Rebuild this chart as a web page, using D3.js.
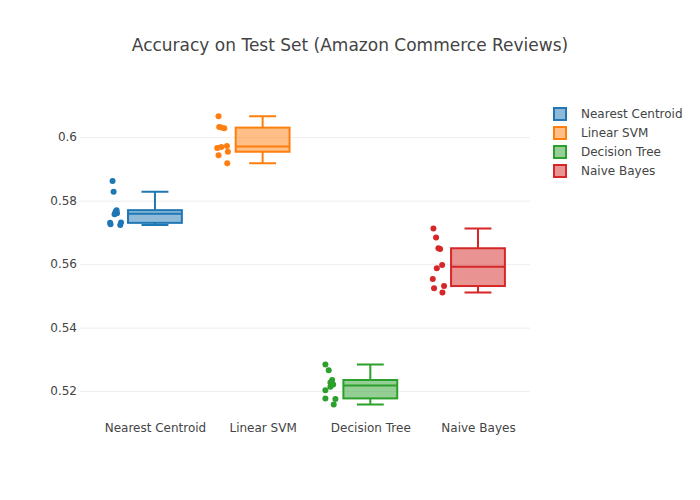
<!DOCTYPE html>
<html>
<head>
<meta charset="utf-8">
<script src="https://cdn.jsdelivr.net/npm/d3@7"></script>
<style>
  body { margin: 0; background: #fff; }
  text { font-family: "DejaVu Sans", verdana, arial, sans-serif; }
</style>
</head>
<body>
<svg id="chart" width="700" height="500"></svg>
<script>
// categories + one accuracy value per fold (10 folds)
var categories = ['Nearest Centroid', 'Linear SVM', 'Decision Tree', 'Naive Bayes'];
var colors = ['#1f77b4', '#ff7f0e', '#2ca02c', '#d62728'];

var nearestCentroid = [0.5723, 0.5726, 0.5730, 0.5731, 0.5757, 0.5760, 0.5765, 0.5770, 0.5828, 0.5862];
var linearSVM = [0.5918, 0.5943, 0.5954, 0.5966, 0.5969, 0.5972, 0.6028, 0.6030, 0.6032, 0.6066];
var decisionTree = [0.5158, 0.5175, 0.5177, 0.5203, 0.5214, 0.5221, 0.5227, 0.5235, 0.5266, 0.5284];
var naiveBayes = [0.5511, 0.5524, 0.5531, 0.5553, 0.5587, 0.5597, 0.5648, 0.5650, 0.5684, 0.5712];

// horizontal jitter of each point, as a fraction of the jitter span
var jitterNC = [0.7, -0.5, -0.55, 0.8, 0, 0.3, 0.12, 0.25, -0.12, -0.25];
var jitterSVM = [0.62, -0.46, 0.7, -0.62, -0.12, 0.58, 0.25, -0.12, -0.38, -0.46];
var jitterDT = [0.47, 0.68, -0.56, -0.56, 0.06, 0.4, 0.06, 0.27, -0.15, -0.56];
var jitterNB = [0.6, -0.44, 0.8, -0.6, -0.1, 0.56, 0.31, 0.1, -0.19, -0.52];

var yTicks = [0.52, 0.54, 0.56, 0.58, 0.6];

var series = [nearestCentroid, linearSVM, decisionTree, naiveBayes];
var jitters = [jitterNC, jitterSVM, jitterDT, jitterNB];

var svg = d3.select('#chart');
var mLeft = 80, mRight = 530, mTop = 100, mBottom = 420;

var x = d3.scaleLinear().domain([-0.696, 3.483]).range([mLeft, mRight]);
var y = d3.scaleLinear().domain([0.5109, 0.6117]).range([mBottom, mTop]);

var halfW = (x(1) - x(0)) * 0.25;   // half box width
var jitterSpan = halfW * 0.3;
var pointPos = -1.5;

// plotly-like quantile (linear interpolation)
function interp(arr, n) {
    n = n * arr.length - 0.5;
    if (n < 0) return arr[0];
    if (n > arr.length - 1) return arr[arr.length - 1];
    var frac = n % 1;
    return frac * arr[Math.ceil(n)] + (1 - frac) * arr[Math.floor(n)];
}

function boxStats(vals) {
    var s = vals.slice().sort(d3.ascending);
    var q1 = interp(s, 0.25), med = interp(s, 0.5), q3 = interp(s, 0.75);
    var iqr = q3 - q1;
    var lo = d3.min(s.filter(function(v) { return v >= q1 - 1.5 * iqr; }));
    var hi = d3.max(s.filter(function(v) { return v <= q3 + 1.5 * iqr; }));
    return { q1: q1, med: med, q3: q3, lo: lo, hi: hi };
}

// gridlines + y axis
var yAxis = d3.axisLeft(y).tickValues(yTicks).tickSize(-(mRight - mLeft)).tickPadding(3)
    .tickFormat(function(d) { return String(+d.toFixed(2)); });
var gy = svg.append('g').attr('transform', 'translate(' + mLeft + ',0)').call(yAxis);
gy.select('.domain').remove();
gy.selectAll('line').attr('stroke', '#eee').attr('stroke-width', 1);
gy.selectAll('text').attr('fill', '#444').style('font-size', '12px');

// x axis labels
var xAxis = d3.axisBottom(x).tickValues(d3.range(categories.length)).tickSize(0).tickPadding(3)
    .tickFormat(function(d) { return categories[d]; });
var gx = svg.append('g').attr('transform', 'translate(0,' + mBottom + ')').call(xAxis);
gx.select('.domain').remove();
gx.selectAll('text').attr('fill', '#444').style('font-size', '12px');

// boxes
var boxes = svg.append('g').selectAll('g.box')
    .data(series)
    .enter()
    .append('g')
    .attr('class', 'box');

boxes.each(function(vals, i) {
    var g = d3.select(this);
    var st = boxStats(vals);
    var cx = x(i);
    var col = colors[i];

    // whiskers
    g.append('path')
        .attr('d', 'M' + cx + ',' + y(st.q3) + 'V' + y(st.hi) +
            'M' + (cx - halfW / 2) + ',' + y(st.hi) + 'H' + (cx + halfW / 2) +
            'M' + cx + ',' + y(st.q1) + 'V' + y(st.lo) +
            'M' + (cx - halfW / 2) + ',' + y(st.lo) + 'H' + (cx + halfW / 2))
        .attr('stroke', col).attr('stroke-width', 2).attr('fill', 'none');

    g.append('rect')
        .attr('x', cx - halfW)
        .attr('y', y(st.q3))
        .attr('width', halfW * 2)
        .attr('height', y(st.q1) - y(st.q3))
        .attr('fill', col).attr('fill-opacity', 0.5)
        .attr('stroke', col).attr('stroke-width', 2);

    g.append('line')
        .attr('x1', cx - halfW).attr('x2', cx + halfW)
        .attr('y1', y(st.med)).attr('y2', y(st.med))
        .attr('stroke', col).attr('stroke-width', 2);

    // points
    g.selectAll('circle')
        .data(vals)
        .enter()
        .append('circle')
        .attr('cx', function(d, j) { return cx + pointPos * halfW + jitters[i][j] * jitterSpan; })
        .attr('cy', function(d) { return y(d); })
        .attr('r', 3)
        .attr('fill', col);
});

// title
svg.append('text')
    .attr('x', 350).attr('y', 51)
    .attr('text-anchor', 'middle')
    .attr('fill', '#444')
    .style('font-size', '17px')
    .text('Accuracy on Test Set (Amazon Commerce Reviews)');

// legend
var legend = svg.append('g').selectAll('g.item')
    .data(categories)
    .enter()
    .append('g')
    .attr('transform', function(d, i) { return 'translate(540,' + (114 + i * 19) + ')'; });

legend.append('rect')
    .attr('x', 14).attr('y', -6).attr('width', 12).attr('height', 12)
    .attr('fill', function(d, i) { return colors[i]; }).attr('fill-opacity', 0.5)
    .attr('stroke', function(d, i) { return colors[i]; }).attr('stroke-width', 2);

legend.append('text')
    .attr('x', 41).attr('y', 4)
    .attr('fill', '#444')
    .style('font-size', '12px')
    .text(function(d) { return d; });
</script>
</body>
</html>
